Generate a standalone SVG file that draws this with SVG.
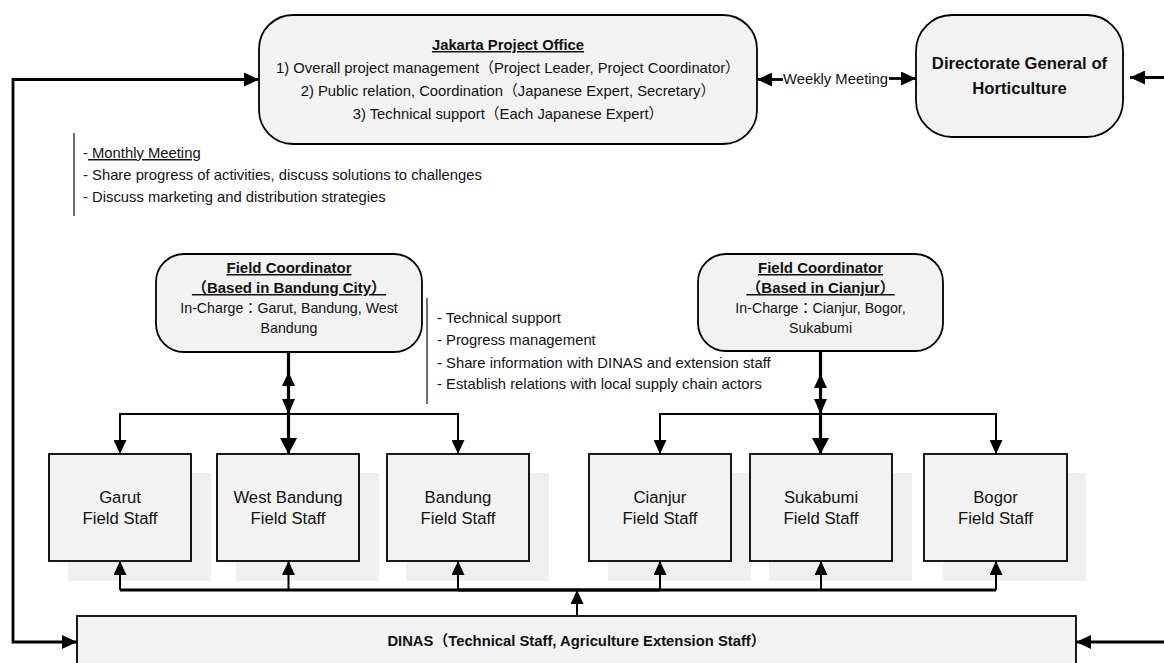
<svg xmlns="http://www.w3.org/2000/svg" width="1164" height="663" viewBox="0 0 1164 663">
<defs>
<style>
text{font-family:"Liberation Sans",Arial,"Noto Sans CJK JP",sans-serif;fill:#111;}
.t{font-size:14.8px}
.tb{font-size:14.8px;font-weight:bold}
.fc{font-size:14.2px}
.fcb{font-size:15px;font-weight:bold}
.big{font-size:16.7px}
.bigb{font-size:16.7px;font-weight:bold}
.u{text-decoration:underline}
.box{fill:#f2f2f2;stroke:#000;stroke-width:1.8}
.shadow{fill:#efefef}
.c{fill:none;stroke:#000;stroke-width:2.8}
.ct{fill:none;stroke:#000;stroke-width:3.2}
.cs{fill:none;stroke:#000;stroke-width:2}
.note{stroke:#333;stroke-width:1.4}
.head{fill:#000}
</style>
<marker id="arr" markerUnits="userSpaceOnUse" markerWidth="16" markerHeight="14" refX="15" refY="7" orient="auto-start-reverse"><path d="M0,0 L15,7 L0,14 z" fill="#000"/></marker>
<marker id="arrL" markerUnits="userSpaceOnUse" markerWidth="17" markerHeight="17" refX="16" refY="8.5" orient="auto"><path d="M0,0 L16,8.5 L0,17 z" fill="#000"/></marker>
<marker id="arrS" markerUnits="userSpaceOnUse" markerWidth="14" markerHeight="13" refX="14" refY="6.5" orient="auto"><path d="M0,0 L14,6.5 L0,13 z" fill="#000"/></marker>
</defs>
<rect width="1164" height="663" fill="#fff"/>

<g id="jakarta">
<rect class="box" x="259" y="15" width="498" height="129" rx="34"/>
<text class="tb u" x="508" y="50" text-anchor="middle">Jakarta Project Office</text>
<text class="t" x="508" y="73" text-anchor="middle">1) Overall project management（Project Leader, Project Coordinator）</text>
<text class="t" x="508" y="96" text-anchor="middle">2) Public relation, Coordination（Japanese Expert, Secretary）</text>
<text class="t" x="508" y="119" text-anchor="middle">3) Technical support（Each Japanese Expert）</text>
</g>

<g id="weekly-label">
<text class="t" x="835.5" y="83.5" text-anchor="middle">Weekly Meeting</text>
</g>

<g id="directorate">
<rect class="box" x="916" y="15" width="207" height="122" rx="36"/>
<text class="bigb" x="1019.5" y="69" text-anchor="middle">Directorate General of</text>
<text class="bigb" x="1019.5" y="94" text-anchor="middle">Horticulture</text>
</g>

<g id="monthly-note">
<line class="note" x1="74" y1="133" x2="74" y2="216"/>
<text class="t" x="83" y="158">-<tspan class="u"> Monthly Meeting</tspan></text>
<text class="t" x="83" y="180">- Share progress of activities, discuss solutions to challenges</text>
<text class="t" x="83" y="202">- Discuss  marketing and distribution strategies</text>
</g>

<g id="fc-bandung">
<rect class="box" x="156" y="254" width="266" height="98" rx="28"/>
<text class="fcb u" x="289" y="273" text-anchor="middle">Field Coordinator</text>
<text class="fcb u" x="289" y="293" text-anchor="middle">（Based in Bandung City）</text>
<text class="fc" x="289" y="313" text-anchor="middle">In-Charge：Garut, Bandung, West</text>
<text class="fc" x="289" y="333" text-anchor="middle">Bandung</text>
</g>

<g id="field-note">
<line class="note" x1="427" y1="298" x2="427" y2="404"/>
<text class="t" x="437" y="323">- Technical support</text>
<text class="t" x="437" y="345">- Progress management</text>
<text class="t" x="437" y="368">- Share information with DINAS and extension staff</text>
<text class="t" x="437" y="389">- Establish relations with local supply chain actors</text>
</g>

<g id="fc-cianjur">
<rect class="box" x="698" y="254" width="245" height="97" rx="28"/>
<text class="fcb u" x="820.5" y="273" text-anchor="middle">Field Coordinator</text>
<text class="fcb u" x="820.5" y="293" text-anchor="middle">（Based in Cianjur）</text>
<text class="fc" x="820.5" y="313" text-anchor="middle">In-Charge：Cianjur, Bogor,</text>
<text class="fc" x="820.5" y="333" text-anchor="middle">Sukabumi</text>
</g>

<g id="garut">
<rect class="shadow" x="68" y="473" width="143" height="108"/>
<rect class="box" x="49" y="454" width="142" height="107"/>
<text class="big" x="120" y="503" text-anchor="middle">Garut</text>
<text class="big" x="120" y="524" text-anchor="middle">Field Staff</text>
</g>
<g id="west-bandung">
<rect class="shadow" x="236" y="473" width="143" height="108"/>
<rect class="box" x="217" y="454" width="142" height="107"/>
<text class="big" x="288" y="503" text-anchor="middle">West Bandung</text>
<text class="big" x="288" y="524" text-anchor="middle">Field Staff</text>
</g>
<g id="bandung">
<rect class="shadow" x="406" y="473" width="143" height="108"/>
<rect class="box" x="387" y="454" width="142" height="107"/>
<text class="big" x="458" y="503" text-anchor="middle">Bandung</text>
<text class="big" x="458" y="524" text-anchor="middle">Field Staff</text>
</g>
<g id="cianjur">
<rect class="shadow" x="608" y="473" width="143" height="108"/>
<rect class="box" x="589" y="454" width="142" height="107"/>
<text class="big" x="660" y="503" text-anchor="middle">Cianjur</text>
<text class="big" x="660" y="524" text-anchor="middle">Field Staff</text>
</g>
<g id="sukabumi">
<rect class="shadow" x="769" y="473" width="143" height="108"/>
<rect class="box" x="750" y="454" width="142" height="107"/>
<text class="big" x="821" y="503" text-anchor="middle">Sukabumi</text>
<text class="big" x="821" y="524" text-anchor="middle">Field Staff</text>
</g>
<g id="bogor">
<rect class="shadow" x="943" y="473" width="143" height="108"/>
<rect class="box" x="924" y="454" width="143" height="107"/>
<text class="big" x="995.5" y="503" text-anchor="middle">Bogor</text>
<text class="big" x="995.5" y="524" text-anchor="middle">Field Staff</text>
</g>

<g id="dinas">
<rect class="box" x="77" y="616" width="999" height="60"/>
<text class="tb" x="576.5" y="646" text-anchor="middle">DINAS（Technical Staff, Agriculture Extension Staff）</text>
</g>

<g id="connectors">
<path class="c" d="M77,642 H13 V79.5 H259" marker-start="url(#arr)" marker-end="url(#arr)"/>
<path class="c" d="M1164,77.5 H1130" marker-end="url(#arr)"/>
<path class="c" d="M1164,642 H1076" marker-end="url(#arr)"/>
<path class="c" d="M783,79.5 H757" marker-end="url(#arr)"/>
<path class="c" d="M889,78.5 H916" marker-end="url(#arr)"/>
<path class="ct" d="M288.5,352 V414"/>
<polygon class="head" points="288.5,372 282,386 295,386"/>
<polygon class="head" points="288.5,414 282,399 295,399"/>
<path class="cs" d="M120,454 V414 H458 V454"/>
<path class="cs" d="M120,430 V454" marker-end="url(#arrS)"/>
<path class="cs" d="M458,430 V454" marker-end="url(#arrS)"/>
<path class="ct" d="M288.5,414 V454" marker-end="url(#arrL)"/>
<path class="ct" d="M820.5,351 V414"/>
<polygon class="head" points="820.5,374 814,388 827,388"/>
<polygon class="head" points="820.5,414 814,399 827,399"/>
<path class="cs" d="M660,454 V414 H996 V454"/>
<path class="cs" d="M660,430 V454" marker-end="url(#arrS)"/>
<path class="cs" d="M996,430 V454" marker-end="url(#arrS)"/>
<path class="ct" d="M820.5,414 V454" marker-end="url(#arrL)"/>
<path class="c" d="M120,590 H996"/>
<path class="ct" d="M458,590 H660" stroke-width="3.6"/>
<path class="cs" d="M120,590 V561" marker-end="url(#arrS)"/>
<path class="cs" d="M288.5,590 V561" marker-end="url(#arrS)"/>
<path class="cs" d="M458,590 V561" marker-end="url(#arrS)"/>
<path class="cs" d="M660,590 V561" marker-end="url(#arrS)"/>
<path class="cs" d="M821,590 V561" marker-end="url(#arrS)"/>
<path class="cs" d="M996,590 V561" marker-end="url(#arrS)"/>
<path class="cs" d="M577,616 V590" marker-end="url(#arrS)"/>
</g>
</svg>
